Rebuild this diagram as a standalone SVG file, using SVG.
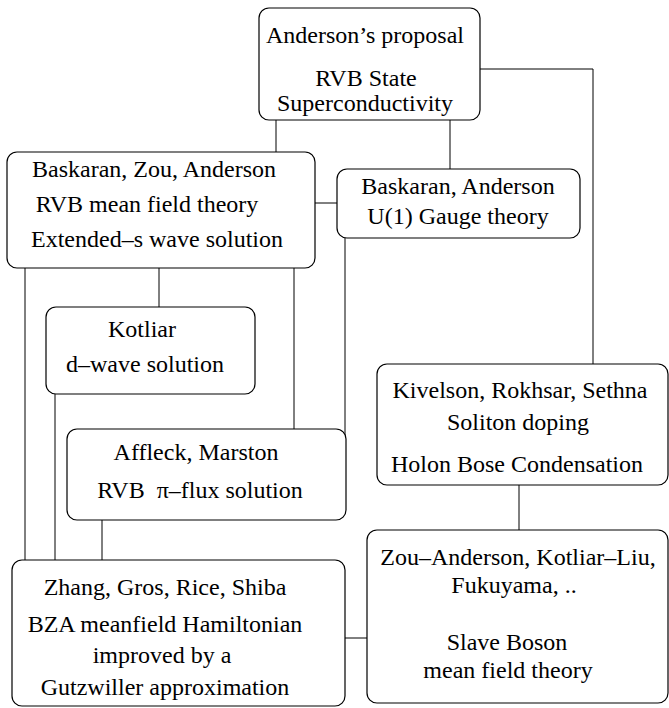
<svg xmlns="http://www.w3.org/2000/svg" width="669" height="708" viewBox="0 0 669 708">
<style>
.box{fill:#fff;stroke:#000;stroke-width:1.2}
.ln{stroke:#000;stroke-width:1;fill:none}
text{font-family:"Liberation Serif","Times New Roman",serif;font-size:24px;fill:#000;text-anchor:middle}
</style>
<rect width="669" height="708" fill="#fff"/>
<g id="connectors">
<polyline class="ln" points="480,69 593,69 593,365"/>
<line class="ln" x1="276" y1="120" x2="276" y2="152"/>
<line class="ln" x1="450" y1="120" x2="450" y2="169"/>
<line class="ln" x1="315" y1="203" x2="337" y2="203"/>
<line class="ln" x1="159" y1="268" x2="159" y2="307"/>
<line class="ln" x1="25" y1="268" x2="25" y2="560"/>
<line class="ln" x1="294" y1="268" x2="294" y2="429"/>
<line class="ln" x1="345" y1="238" x2="345" y2="436"/>
<line class="ln" x1="55" y1="394" x2="55" y2="560"/>
<line class="ln" x1="102" y1="520" x2="102" y2="560"/>
<line class="ln" x1="519" y1="485" x2="519" y2="530"/>
<line class="ln" x1="345" y1="638" x2="367" y2="638"/>
</g>
<g id="anderson">
<rect class="box" x="259" y="8" width="221" height="112" rx="10"/>
<text x="365" y="43">Anderson’s proposal</text>
<text x="366" y="86">RVB State</text>
<text x="365" y="111">Superconductivity</text>
</g>
<g id="bza">
<rect class="box" x="7" y="152" width="308" height="116" rx="10"/>
<text x="154" y="177">Baskaran, Zou, Anderson</text>
<text x="147" y="212">RVB mean field theory</text>
<text x="157" y="247">Extended–s wave solution</text>
</g>
<g id="gauge">
<rect class="box" x="337" y="169" width="243" height="69" rx="10"/>
<text x="458" y="194">Baskaran, Anderson</text>
<text x="458" y="224">U(1) Gauge theory</text>
</g>
<g id="kotliar">
<rect class="box" x="46" y="307" width="209" height="87" rx="10"/>
<text x="142" y="337">Kotliar</text>
<text x="145" y="372">d–wave solution</text>
</g>
<g id="affleck">
<rect class="box" x="67" y="429" width="279" height="91" rx="10"/>
<text x="196" y="460">Affleck, Marston</text>
<text x="200" y="498" xml:space="preserve">RVB  π–flux solution</text>
</g>
<g id="kivelson">
<rect class="box" x="377" y="364" width="291" height="121" rx="10"/>
<text x="520" y="398">Kivelson, Rokhsar, Sethna</text>
<text x="518" y="430">Soliton doping</text>
<text x="517" y="472">Holon Bose Condensation</text>
</g>
<g id="zgrs">
<rect class="box" x="12" y="560" width="333" height="146" rx="10"/>
<text x="165" y="595">Zhang, Gros, Rice, Shiba</text>
<text x="165" y="632">BZA meanfield Hamiltonian</text>
<text x="162" y="663">improved by a</text>
<text x="165" y="695">Gutzwiller approximation</text>
</g>
<g id="slaveboson">
<rect class="box" x="367" y="530" width="301" height="173" rx="10"/>
<text x="518" y="565">Zou–Anderson, Kotliar–Liu,</text>
<text x="514" y="593">Fukuyama, ..</text>
<text x="507" y="650">Slave Boson</text>
<text x="508" y="678">mean field theory</text>
</g>
</svg>
